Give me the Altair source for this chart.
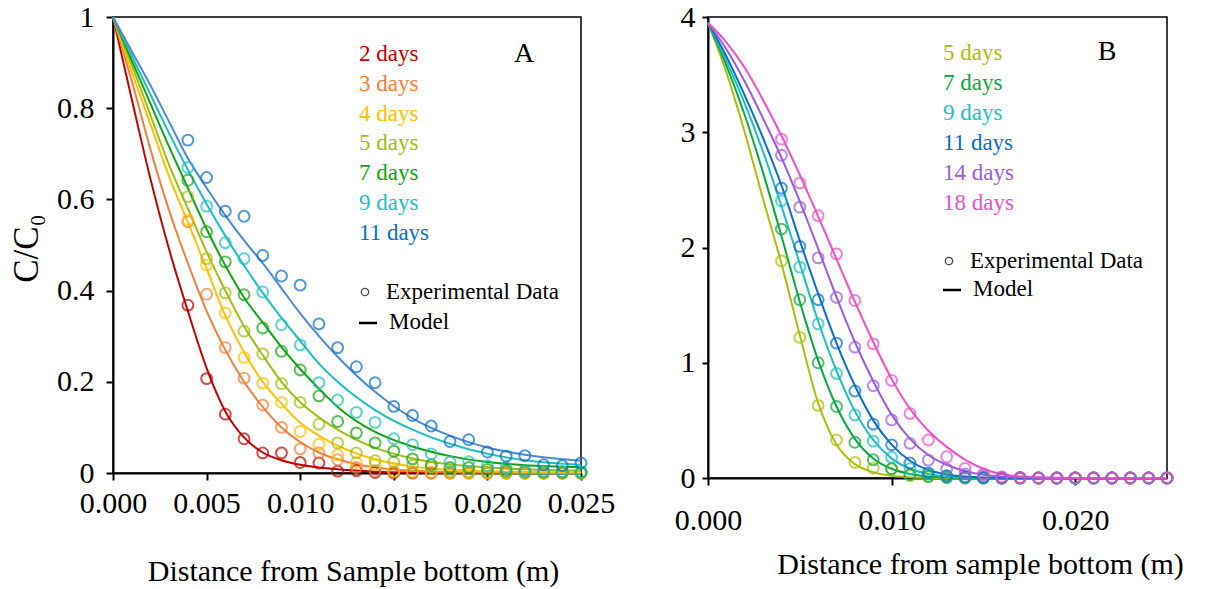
import altair as alt
import pandas as pd

FONT = "Liberation Serif"

# ---------------- Panel A ----------------
a_labels = ["2 days", "3 days", "4 days", "5 days", "7 days", "9 days", "11 days"]
a_point_colors = ["#C00000", "#F0803C", "#FFC000", "#A2BD12", "#12A312", "#1EC0C0", "#0A6FC6"]
a_line_colors = ["#C00000", "#F0803C", "#FFC000", "#A2BD12", "#12A312", "#1EC0C0", "#4F88D8"]

a_model_x = [0.000, 0.001, 0.002, 0.003, 0.004, 0.005, 0.006, 0.007, 0.008, 0.009,
             0.010, 0.011, 0.012, 0.014, 0.016, 0.018, 0.020, 0.022, 0.025]
a_model = {
    "2 days":  [1, 0.82, 0.645, 0.49, 0.355, 0.23, 0.135, 0.078, 0.045, 0.028, 0.018, 0.012, 0.008, 0.003, 0.001, 0, 0, 0, 0],
    "3 days":  [1, 0.86, 0.71, 0.575, 0.46, 0.355, 0.27, 0.2, 0.145, 0.1, 0.068, 0.045, 0.03, 0.012, 0.005, 0.002, 0.001, 0, 0],
    "4 days":  [1, 0.88, 0.765, 0.65, 0.55, 0.448, 0.345, 0.265, 0.2, 0.152, 0.11, 0.082, 0.06, 0.03, 0.014, 0.007, 0.004, 0.002, 0.001],
    "5 days":  [1, 0.895, 0.785, 0.675, 0.58, 0.485, 0.4, 0.322, 0.258, 0.2, 0.155, 0.122, 0.095, 0.055, 0.032, 0.019, 0.012, 0.008, 0.005],
    "7 days":  [1, 0.905, 0.81, 0.715, 0.625, 0.535, 0.455, 0.385, 0.33, 0.276, 0.228, 0.185, 0.145, 0.09, 0.058, 0.037, 0.024, 0.017, 0.013],
    "9 days":  [1, 0.915, 0.83, 0.745, 0.665, 0.59, 0.52, 0.455, 0.395, 0.34, 0.29, 0.24, 0.2, 0.138, 0.095, 0.064, 0.042, 0.028, 0.018],
    "11 days": [1, 0.925, 0.85, 0.77, 0.69, 0.625, 0.565, 0.51, 0.46, 0.405, 0.35, 0.3, 0.255, 0.178, 0.12, 0.082, 0.056, 0.04, 0.027],
}

a_data_x = [0.004, 0.005, 0.006, 0.007, 0.008, 0.009, 0.010, 0.011, 0.012, 0.013, 0.014,
            0.015, 0.016, 0.017, 0.018, 0.019, 0.020, 0.021, 0.022, 0.023, 0.024, 0.025]
a_data = {
    "2 days":  [0.368, 0.207, 0.129, 0.075, 0.044, 0.044, 0.023, 0.022, 0.004, 0.005, 0.001, 0, 0, 0, 0, 0, 0, 0, 0, 0, 0, 0],
    "3 days":  [0.551, 0.392, 0.275, 0.208, 0.149, 0.100, 0.053, 0.044, 0.029, 0.012, 0.005, 0.002, 0.001, 0, 0, 0, 0, 0, 0, 0, 0, 0],
    "4 days":  [0.555, 0.456, 0.351, 0.253, 0.197, 0.155, 0.091, 0.063, 0.040, 0.023, 0.018, 0.004, 0.003, 0.002, 0.001, 0, 0, 0, 0, 0, 0, 0],
    "5 days":  [0.606, 0.470, 0.395, 0.311, 0.261, 0.196, 0.155, 0.107, 0.066, 0.044, 0.027, 0.024, 0.017, 0.012, 0.004, 0.003, 0.002, 0.001, 0, 0, 0, 0],
    "7 days":  [0.642, 0.529, 0.463, 0.391, 0.318, 0.267, 0.226, 0.169, 0.113, 0.088, 0.066, 0.048, 0.031, 0.018, 0.012, 0.012, 0.008, 0.005, 0.004, 0.003, 0.002, 0.002],
    "9 days":  [0.670, 0.585, 0.505, 0.470, 0.397, 0.325, 0.281, 0.198, 0.160, 0.133, 0.111, 0.075, 0.062, 0.042, 0.024, 0.025, 0.016, 0.012, 0.005, 0.004, 0.003, 0.002],
    "11 days": [0.730, 0.648, 0.574, 0.563, 0.477, 0.432, 0.412, 0.327, 0.275, 0.233, 0.198, 0.146, 0.126, 0.103, 0.069, 0.073, 0.046, 0.037, 0.038, 0.018, 0.016, 0.022],
}

# ---------------- Panel B ----------------
b_labels = ["5 days", "7 days", "9 days", "11 days", "14 days", "18 days"]
b_colors = ["#AEBE0A", "#08A840", "#1CBFBF", "#0A6FC6", "#9A5CE0", "#F04FC8"]

b_model_x = [0.000, 0.001, 0.002, 0.003, 0.004, 0.005, 0.006, 0.007, 0.008, 0.009, 0.010,
             0.011, 0.012, 0.013, 0.014, 0.015, 0.016, 0.018, 0.020, 0.025]
b_model = {
    "5 days":  [3.95, 3.52, 3.00, 2.42, 1.86, 1.24, 0.65, 0.29, 0.12, 0.05, 0.02, 0.007, 0.002, 0, 0, 0, 0, 0, 0, 0],
    "7 days":  [3.95, 3.58, 3.15, 2.65, 2.10, 1.53, 1.02, 0.62, 0.34, 0.17, 0.08, 0.035, 0.013, 0.004, 0.001, 0, 0, 0, 0, 0],
    "9 days":  [3.95, 3.62, 3.25, 2.83, 2.36, 1.86, 1.36, 0.93, 0.58, 0.33, 0.17, 0.08, 0.035, 0.013, 0.004, 0.001, 0, 0, 0, 0],
    "11 days": [3.95, 3.66, 3.32, 2.95, 2.54, 2.06, 1.60, 1.17, 0.80, 0.50, 0.29, 0.15, 0.07, 0.03, 0.012, 0.004, 0.001, 0, 0, 0],
    "14 days": [3.95, 3.72, 3.44, 3.12, 2.78, 2.40, 1.99, 1.57, 1.18, 0.84, 0.55, 0.34, 0.20, 0.115, 0.06, 0.028, 0.012, 0.003, 0, 0],
    "18 days": [3.95, 3.78, 3.56, 3.28, 2.97, 2.63, 2.27, 1.90, 1.53, 1.18, 0.86, 0.60, 0.41, 0.27, 0.16, 0.08, 0.033, 0.006, 0.001, 0],
}

b_data_x = a_data_x
b_data = {
    "5 days":  [1.884, 1.220, 0.630, 0.330, 0.135, 0.086, 0.080, 0.020, 0.010, 0.005, 0, 0, 0, 0, 0, 0, 0, 0, 0, 0, 0, 0],
    "7 days":  [2.160, 1.547, 1.000, 0.620, 0.310, 0.158, 0.080, 0.030, 0.015, 0.005, 0, 0, 0, 0, 0, 0, 0, 0, 0, 0, 0, 0],
    "9 days":  [2.405, 1.830, 1.337, 0.907, 0.547, 0.320, 0.180, 0.080, 0.035, 0.015, 0.005, 0, 0, 0, 0, 0, 0, 0, 0, 0, 0, 0],
    "11 days": [2.515, 2.010, 1.547, 1.170, 0.755, 0.467, 0.288, 0.130, 0.045, 0.020, 0.010, 0.005, 0, 0, 0, 0, 0, 0, 0, 0, 0, 0],
    "14 days": [2.800, 2.350, 1.910, 1.567, 1.135, 0.800, 0.504, 0.300, 0.155, 0.078, 0.035, 0.020, 0.005, 0, 0, 0, 0, 0, 0, 0, 0, 0],
    "18 days": [2.940, 2.560, 2.276, 1.945, 1.540, 1.164, 0.847, 0.560, 0.330, 0.184, 0.084, 0.035, 0.010, 0.003, 0, 0, 0, 0, 0, 0, 0, 0],
}


def long_df(xs, series):
    rows = []
    for name, vals in series.items():
        for x, v in zip(xs, vals):
            rows.append({"x": x, "v": v, "s": name})
    return pd.DataFrame(rows)


TICK_FS = 30
TITLE_FS = 30
LEG_FS = 23
PT_SIZE = 118


def legend_layers(labels, colors, x0, y0, dy, exp_y, model_y, letter, letter_x, letter_y):
    one = pd.DataFrame({"k": [0]})
    layers = []
    for i, (lab, col) in enumerate(zip(labels, colors)):
        layers.append(alt.Chart(one).mark_text(
            text=lab, font=FONT, fontSize=LEG_FS, color=col, align="left", baseline="middle"
        ).encode(x=alt.value(x0), y=alt.value(y0 + i * dy)))
    layers.append(alt.Chart(one).mark_point(
        shape="circle", filled=False, size=55, strokeWidth=1.3, color="black"
    ).encode(x=alt.value(x0 + 6), y=alt.value(exp_y)))
    layers.append(alt.Chart(one).mark_text(
        text="Experimental Data", font=FONT, fontSize=LEG_FS, color="black", align="left", baseline="middle"
    ).encode(x=alt.value(x0 + 27), y=alt.value(exp_y)))
    layers.append(alt.Chart(one).mark_rule(color="black", strokeWidth=2.5).encode(
        x=alt.value(x0), x2=alt.value(x0 + 18), y=alt.value(model_y + 1)))
    layers.append(alt.Chart(one).mark_text(
        text="Model", font=FONT, fontSize=LEG_FS, color="black", align="left", baseline="middle"
    ).encode(x=alt.value(x0 + 30), y=alt.value(model_y)))
    layers.append(alt.Chart(one).mark_text(
        text=letter, font=FONT, fontSize=28, color="black", align="center", baseline="middle"
    ).encode(x=alt.value(letter_x), y=alt.value(letter_y)))
    return layers


# ---- Panel A chart ----
a_line_df = long_df(a_model_x, a_model)
a_pt_df = long_df(a_data_x, a_data)

a_x = alt.X("x:Q", scale=alt.Scale(domain=[0, 0.025], nice=False),
            axis=alt.Axis(values=[0, 0.005, 0.01, 0.015, 0.02, 0.025], format=".3f",
                          title="Distance from Sample bottom (m)", titleX=240, titleY=98,
                          titleBaseline="middle", titleAlign="center",
                          labelPadding=8, tickSize=7))
a_y = alt.Y("v:Q", scale=alt.Scale(domain=[0, 1], nice=False),
            axis=alt.Axis(values=[0, 0.2, 0.4, 0.6, 0.8, 1], format="~g",
                          title="C/C\u2080", titleX=-87, titleY=231, titleAngle=270,
                          titleFontSize=35,
                          titleBaseline="middle", titleAlign="center",
                          labelPadding=12, tickSize=7))

a_lines = alt.Chart(a_line_df).mark_line(strokeWidth=2, interpolate="monotone").encode(
    x=a_x, y=a_y,
    color=alt.Color("s:N", scale=alt.Scale(domain=a_labels, range=a_line_colors), legend=None),
    detail="s:N")
a_points = alt.Chart(a_pt_df).mark_point(shape="circle", filled=False, size=PT_SIZE, strokeWidth=2).encode(
    x=alt.X("x:Q"), y=alt.Y("v:Q"),
    color=alt.Color("s:N", scale=alt.Scale(domain=a_labels, range=a_point_colors), legend=None))

panel_a = alt.layer(
    a_lines, a_points,
    *legend_layers(a_labels, a_point_colors, 246, 37, 29.8, 275, 305, "A", 411, 37)
).resolve_scale(color="independent").properties(width=468, height=456)

# ---- Panel B chart ----
b_line_df = long_df(b_model_x, b_model)
b_pt_df = long_df(b_data_x, b_data)

b_x = alt.X("x:Q", scale=alt.Scale(domain=[0, 0.025], nice=False),
            axis=alt.Axis(values=[0, 0.01, 0.02], format=".3f",
                          title="Distance from sample bottom (m)", titleX=272, titleY=86,
                          titleBaseline="middle", titleAlign="center",
                          labelPadding=20, tickSize=7))
b_y = alt.Y("v:Q", scale=alt.Scale(domain=[0, 4], nice=False),
            axis=alt.Axis(values=[0, 1, 2, 3, 4], format="d", title=None,
                          labelPadding=7, tickSize=6))

b_scale = alt.Scale(domain=b_labels, range=b_colors)
b_lines = alt.Chart(b_line_df).mark_line(strokeWidth=2, interpolate="monotone").encode(
    x=b_x, y=b_y, color=alt.Color("s:N", scale=b_scale, legend=None), detail="s:N")
b_points = alt.Chart(b_pt_df).mark_point(shape="circle", filled=False, size=PT_SIZE, strokeWidth=2).encode(
    x=alt.X("x:Q"), y=alt.Y("v:Q"), color=alt.Color("s:N", scale=b_scale, legend=None))

panel_b = alt.layer(
    b_lines, b_points,
    *legend_layers(b_labels, b_colors, 235, 36, 30, 244, 272, "B", 399, 35)
).properties(width=459, height=461)

chart = alt.hconcat(panel_a, panel_b, spacing=57).properties(
    padding={"left": 8, "top": 1, "right": 5, "bottom": 20},
    background="white"
).configure_view(stroke="black", strokeWidth=1.5).configure_axis(
    grid=False, domainColor="black", domainWidth=2, tickColor="black", tickWidth=2,
    labelFont=FONT, labelFontSize=TICK_FS, labelColor="black", labelFontWeight="normal",
    titleFont=FONT, titleFontSize=TITLE_FS, titleColor="black", titleFontWeight="normal",
    labelOverlap=False, labelFlush=False
)

chart.save("out.html", embed_options={"renderer": "svg", "actions": False})
